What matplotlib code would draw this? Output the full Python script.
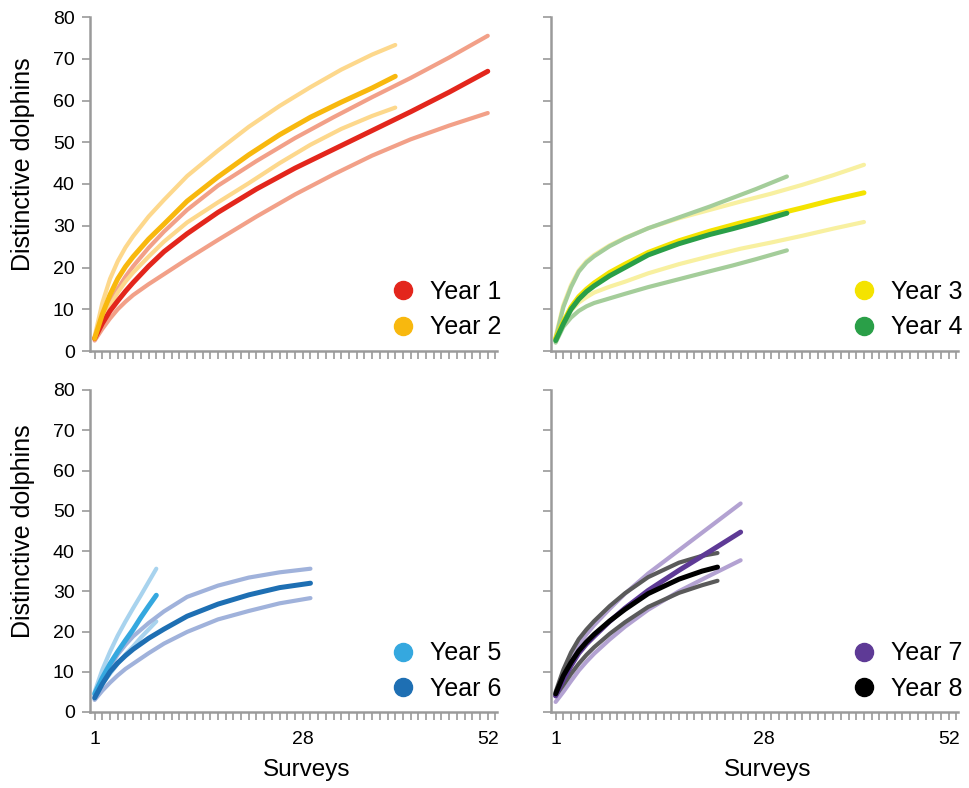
import matplotlib
matplotlib.use('Agg')
import matplotlib.pyplot as plt
from matplotlib.lines import Line2D

plt.rcParams['font.family'] = ['Liberation Sans', 'DejaVu Sans']

# rarefaction curves: mean plus lower/upper bounds
y1_x = [1, 2, 3, 4, 5, 6, 8, 10, 13, 17, 22, 27, 32, 37, 42, 47, 52]
y1_mid = [3, 6.6, 9.6, 12, 14.3, 16.4, 20.3, 23.8, 28.1, 33.2, 38.8, 43.8, 48.3, 52.8, 57.3, 62, 67]
y1_hi = [3, 7.8, 11.5, 14.9, 17.8, 20.3, 24.7, 28.6, 33.8, 39.6, 45.5, 51, 56, 60.8, 65.4, 70.3, 75.5]
y1_lo = [2.5, 5.3, 7.8, 10, 11.8, 13.4, 16, 18.4, 22, 26.6, 32.2, 37.5, 42.3, 46.8, 50.7, 54, 57]

y2_x = [1, 2, 3, 4, 5, 6, 8, 10, 13, 17, 21, 25, 29, 33, 37, 40]
y2_mid = [3, 8.8, 13.5, 17.3, 20.2, 22.6, 26.8, 30.4, 35.9, 41.7, 47, 51.8, 56, 59.6, 63, 65.8]
y2_hi = [3.5, 11.5, 17.3, 21.5, 24.8, 27.5, 32.2, 36.2, 41.9, 48, 53.7, 58.7, 63.2, 67.4, 71, 73.3]
y2_lo = [3, 7.3, 10.8, 14, 16.6, 18.8, 22.6, 26.2, 30.8, 35.6, 40.2, 45, 49.4, 53.2, 56.3, 58.3]

y3_x = [1, 2, 3, 4, 5, 6, 8, 10, 13, 17, 21, 25, 29, 33, 37, 41]
y3_mid = [3, 7, 10.5, 13, 14.8, 16.3, 18.8, 20.8, 23.6, 26.4, 28.7, 30.7, 32.5, 34.3, 36.2, 37.9]
y3_hi = [3.5, 11, 15.8, 19.3, 21.5, 23, 25.3, 27.1, 29.4, 31.8, 33.8, 35.8, 37.7, 39.8, 42.1, 44.6]
y3_lo = [2.5, 7.1, 9.7, 11.6, 12.9, 14, 15.4, 16.6, 18.6, 20.8, 22.7, 24.5, 26, 27.6, 29.3, 30.9]

y4_x = [1, 2, 3, 4, 5, 6, 8, 10, 13, 17, 21, 24, 27, 31]
y4_mid = [2.5, 6.5, 10, 12.4, 14.2, 15.6, 18, 20, 23, 25.7, 27.9, 29.3, 30.8, 33]
y4_hi = [3, 10.5, 15.3, 19, 21.2, 22.7, 25.1, 27, 29.4, 32, 34.6, 36.7, 38.8, 41.8]
y4_lo = [2, 5.8, 8, 9.6, 10.7, 11.5, 12.6, 13.7, 15.3, 17.2, 19.1, 20.5, 22, 24.1]

y5_x = [1, 2, 3, 4, 5, 6, 7, 8, 9]
y5_mid = [4.5, 8.5, 12, 15, 17.8, 20.5, 23.5, 26.3, 29]
y5_hi = [5, 10.5, 15, 19, 22.5, 25.8, 29, 32.3, 35.6]
y5_lo = [4, 7, 9.5, 12, 14.3, 16.3, 18.5, 20.5, 22.5]

y6_x = [1, 2, 3, 4, 5, 6, 8, 10, 13, 17, 21, 25, 29]
y6_mid = [3.5, 7, 10, 12.2, 14, 15.6, 18.3, 20.6, 23.8, 26.8, 29.1, 30.9, 32]
y6_hi = [4, 8, 11.3, 14.3, 16.7, 18.8, 22.1, 25, 28.6, 31.4, 33.4, 34.7, 35.6]
y6_lo = [3, 5.3, 7.3, 9.1, 10.7, 12, 14.6, 17, 19.9, 23, 25.1, 27, 28.3]

y7_x = [1, 2, 3, 4, 5, 6, 8, 10, 13, 17, 21, 25]
y7_mid = [4, 8, 11.5, 14.6, 16.9, 18.8, 22.5, 25.8, 30.2, 35.2, 39.9, 44.7]
y7_hi = [4, 8.5, 12.5, 16.5, 19.3, 21.6, 25.6, 29.4, 34.4, 40.2, 46, 51.8]
y7_lo = [2.5, 5, 7.7, 10.3, 12.5, 14.5, 18, 21.2, 25.4, 30, 33.9, 37.7]

y8_x = [1, 2, 3, 4, 5, 6, 8, 10, 13, 17, 20, 22]
y8_mid = [4.5, 9, 12.3, 15.2, 17.4, 19.3, 22.6, 25.5, 29.4, 33, 35, 36]
y8_hi = [5, 10.5, 14.8, 18.1, 20.5, 22.6, 26.3, 29.5, 33.5, 37.1, 38.8, 39.5]
y8_lo = [4, 6.7, 9.5, 12, 14.2, 16.1, 19.4, 22.3, 26.1, 29.6, 31.5, 32.6]

labels = ['Year 1', 'Year 2', 'Year 3', 'Year 4', 'Year 5', 'Year 6', 'Year 7', 'Year 8']
main_colors = ['#e3261c', '#f8b80e', '#f4e300', '#2a9f48',
               '#35a8df', '#1e6fb3', '#5e3a96', '#000000']
light_colors = ['#f2a088', '#fdd88c', '#f8f0a0', '#a4cd9a',
                '#a8d3ee', '#a0b2db', '#b3a2d2', '#5a5a5a']

years = [
    (y1_x, y1_mid, y1_lo, y1_hi), (y2_x, y2_mid, y2_lo, y2_hi),
    (y3_x, y3_mid, y3_lo, y3_hi), (y4_x, y4_mid, y4_lo, y4_hi),
    (y5_x, y5_mid, y5_lo, y5_hi), (y6_x, y6_mid, y6_lo, y6_hi),
    (y7_x, y7_mid, y7_lo, y7_hi), (y8_x, y8_mid, y8_lo, y8_hi),
]

W, H = 970, 788
fig = plt.figure(figsize=(W / 100, H / 100), dpi=100)

# axes boxes in pixels: left, top, right, bottom
boxes = [(90, 17, 497, 351), (551, 17, 958, 351),
         (90, 390, 497, 712), (551, 390, 958, 712)]
axes = []
for l, t, r, b in boxes:
    axes.append(fig.add_axes([l / W, 1 - b / H, (r - l) / W, (b - t) / H]))

spine_col = '#9a9a9a'
for i, ax in enumerate(axes):
    pair = [2 * i, 2 * i + 1]
    # bounds first, then the means on top
    for k in pair:
        x, mid, lo, hi = years[k]
        for band in (lo, hi):
            ax.plot(x, band, color=light_colors[k], lw=3.0,
                    solid_capstyle='round', solid_joinstyle='round', zorder=2)
    for k in pair:
        x, mid, lo, hi = years[k]
        ax.plot(x, mid, color=main_colors[k], lw=3.6,
                solid_capstyle='round', solid_joinstyle='round', zorder=3)

    ax.set_xlim(0.4, 53.2)
    ax.set_ylim(0, 80)
    for s in ['top', 'right']:
        ax.spines[s].set_visible(False)
    for s in ['left', 'bottom']:
        ax.spines[s].set_color(spine_col)
        ax.spines[s].set_linewidth(1.8)

    ax.set_yticks(range(0, 81, 10))
    ax.set_xticks([1, 28, 52])
    ax.set_xticks(range(1, 54), minor=True)
    ax.tick_params(axis='y', length=6, width=1.2, color=spine_col,
                   labelsize=14, pad=5)
    ax.tick_params(axis='x', which='both', length=6, width=1.2,
                   color=spine_col, labelsize=14, pad=8)
    if i in (0, 1):
        ax.tick_params(axis='x', labelbottom=False)
    else:
        ax.set_xlabel('Surveys', fontsize=17.5)
        ax.xaxis.set_label_coords(0.533, -0.145)
    if i in (1, 3):
        ax.tick_params(axis='y', labelleft=False)
    else:
        ax.set_ylabel('Distinctive dolphins', fontsize=18)
        ax.yaxis.set_label_coords(-0.135, 0.56)

    handles = [Line2D([], [], ls='none', marker='o', markersize=13,
                      color=main_colors[k], label=labels[k]) for k in pair]
    ax.legend(handles=handles, loc='lower right', bbox_to_anchor=(1.01, 0.035),
              frameon=False, fontsize=18, handletextpad=0.55,
              labelspacing=0.45, borderpad=0, borderaxespad=0,
              handlelength=1.0)

plt.savefig('out.png', dpi=100)
